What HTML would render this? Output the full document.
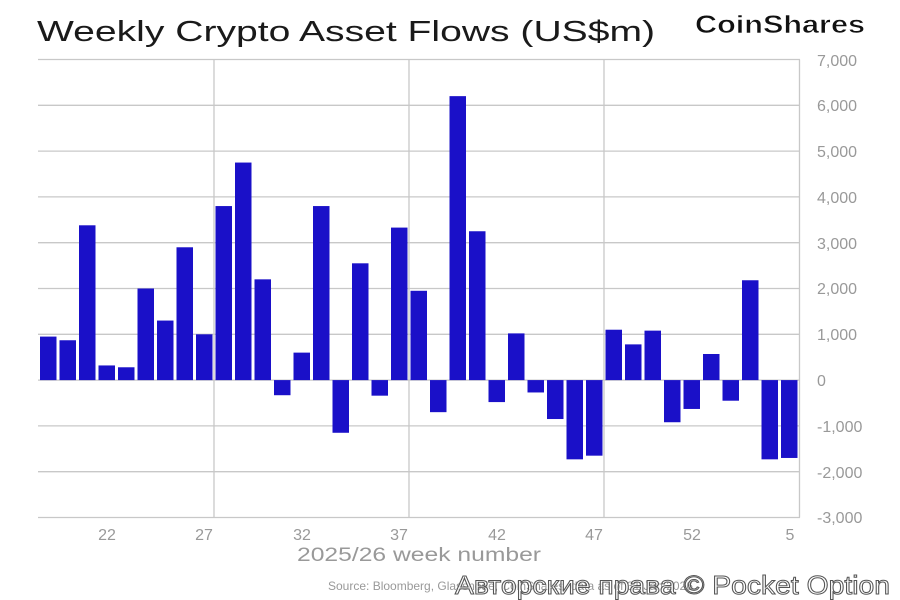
<!DOCTYPE html>
<html><head><meta charset="utf-8"><style>
html,body{margin:0;padding:0;background:#fff;width:900px;height:600px;overflow:hidden}
svg{display:block}
</style></head><body>
<svg id="s" width="900" height="600" xmlns="http://www.w3.org/2000/svg" font-family="Liberation Sans, sans-serif">
<rect width="900" height="600" fill="#fff"/>
<text x="37" y="41" font-size="29" fill="#1a1a1a" textLength="618" lengthAdjust="spacingAndGlyphs">Weekly Crypto Asset Flows (US$m)</text>
<text x="695" y="33" font-size="25" font-weight="bold" fill="#111" textLength="170" lengthAdjust="spacingAndGlyphs" stroke="#fff" stroke-width="0.6">CoinShares</text>
<g stroke="#c8c8c8" stroke-width="1.3">
<line x1="38" y1="59.5" x2="800" y2="59.5"/>
<line x1="38" y1="105.3" x2="800" y2="105.3"/>
<line x1="38" y1="151.1" x2="800" y2="151.1"/>
<line x1="38" y1="196.9" x2="800" y2="196.9"/>
<line x1="38" y1="242.7" x2="800" y2="242.7"/>
<line x1="38" y1="288.5" x2="800" y2="288.5"/>
<line x1="38" y1="334.3" x2="800" y2="334.3"/>
<line x1="38" y1="380.1" x2="800" y2="380.1"/>
<line x1="38" y1="425.9" x2="800" y2="425.9"/>
<line x1="38" y1="471.7" x2="800" y2="471.7"/>
<line x1="38" y1="517.5" x2="800" y2="517.5"/>
<line x1="214" y1="59.5" x2="214" y2="517.5"/>
<line x1="409" y1="59.5" x2="409" y2="517.5"/>
<line x1="604" y1="59.5" x2="604" y2="517.5"/>
<line x1="799.5" y1="59.5" x2="799.5" y2="517.5"/>
</g>
<g id="bars" fill="#1a10c8"></g>
<g font-size="16" fill="#999">
<text x="817" y="66">7,000</text>
<text x="817" y="111">6,000</text>
<text x="817" y="157">5,000</text>
<text x="817" y="203">4,000</text>
<text x="817" y="249">3,000</text>
<text x="817" y="294">2,000</text>
<text x="817" y="340">1,000</text>
<text x="817" y="386">0</text>
<text x="817" y="432">-1,000</text>
<text x="817" y="478">-2,000</text>
<text x="817" y="523">-3,000</text>
</g>
<g font-size="16" fill="#999" text-anchor="middle">
<text x="107" y="540">22</text>
<text x="204" y="540">27</text>
<text x="302" y="540">32</text>
<text x="399" y="540">37</text>
<text x="497" y="540">42</text>
<text x="594" y="540">47</text>
<text x="692" y="540">52</text>
<text x="790" y="540">5</text>
</g>
<text x="297" y="561" font-size="19" fill="#999" textLength="244" lengthAdjust="spacingAndGlyphs">2025/26 week number</text>
<text x="328" y="590" font-size="12" fill="#999">Source: Bloomberg, Glassnode, CoinShares, data as of 31 Jan 2026</text>
<text x="455" y="594" font-size="26" fill="#fff" stroke="#555" stroke-width="1" fill-opacity="0.7" textLength="435" lengthAdjust="spacingAndGlyphs">Авторские права © Pocket Option</text>
</svg>
<script>
var v=[950,870,3380,320,280,2000,1300,2900,1000,3800,4750,2200,-330,600,3800,-1150,2550,-340,3330,1950,-700,6200,3250,-480,1020,-270,-850,-1730,-1650,1100,780,1080,-920,-630,570,-450,2180,-1730,-1700];
var g=document.getElementById('bars'),z=380.1,k=0.0458,h='';
v.forEach(function(d,i){var x=40+i*19.5,y=d>0?z-d*k:z,hh=Math.abs(d)*k;h+='<rect x="'+x+'" y="'+y+'" width="16.5" height="'+hh+'"/>';});
g.innerHTML=h;
</script>
</body></html>
